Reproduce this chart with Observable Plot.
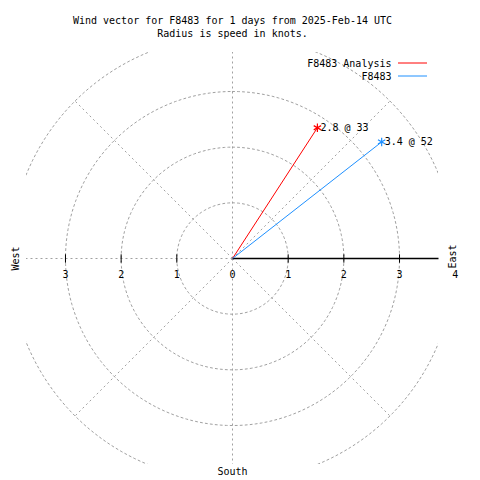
<!DOCTYPE html>
<html>
<head>
<meta charset="utf-8">
<script src="https://cdn.jsdelivr.net/npm/d3@7"></script>
<script src="https://cdn.jsdelivr.net/npm/@observablehq/plot@0.6"></script>
<style>
body { margin: 0; background: #fff; }
</style>
</head>
<body>
<div id="chart"></div>
<script>
// Data
const seriesNames = ["F8483 Analysis", "F8483"];
const seriesColors = ["#ff0000", "#1e90ff"];
const speeds = [2.8, 3.4];       // knots
const directions = [33, 52];     // degrees from north, clockwise
const ringRadii = [1, 2, 3, 4];
const spokeAngles = [0, 45, 135, 180, 225, 270, 315];
const tickValues = [-3, -2, -1, 1, 2, 3];
const tickLabelValues = [-3, -2, -1, 0, 1, 2, 3, 4];
const titleLines = ["Wind vector for F8483 for 1 days from 2025-Feb-14 UTC", "Radius is speed in knots."];

const FONT = "DejaVu Sans Mono";
const rad = d => d * Math.PI / 180;

const vectors = seriesNames.map((name, i) => ({
  name, color: seriesColors[i], speed: speeds[i], dir: directions[i],
  x: speeds[i] * Math.sin(rad(directions[i])),
  y: speeds[i] * Math.cos(rad(directions[i])),
  label: `${speeds[i].toFixed(1)} @ ${directions[i]}`
}));

const ringPts = ringRadii.flatMap(r => d3.range(0, 361, 2).map(a => ({r, x: r * Math.sin(rad(a)), y: r * Math.cos(rad(a))})));
const spokes = spokeAngles.map(a => {
  const len = a % 90 === 0 ? 4.2 : 4;
  return {x: len * Math.sin(rad(a)), y: len * Math.cos(rad(a))};
});

const grid = "#a0a0a0";
const txt = {fill: "black", fontFamily: FONT, fontSize: 10, lineAnchor: "middle"};
const chart = Plot.plot({
  width: 480, height: 480,
  marginLeft: 26, marginRight: 42, marginTop: 52, marginBottom: 16,
  style: {fontFamily: FONT, fontSize: "10px", background: "#fff"},
  x: {domain: [-3.7, 3.7], axis: null},
  y: {domain: [-3.7, 3.7], axis: null},
  marks: [
    Plot.line(ringPts, {x: "x", y: "y", z: "r", stroke: grid, strokeDasharray: "2,3", strokeWidth: 1, clip: true}),
    Plot.link(spokes, {x1: 0, y1: 0, x2: "x", y2: "y", stroke: grid, strokeDasharray: "2,3", strokeWidth: 1, clip: true}),
    Plot.link([0], {x1: 0, y1: 0, x2: 3.7, y2: 0, stroke: "black", strokeWidth: 1.5}),
    Plot.link(tickValues, {x1: d => d, x2: d => d, y1: -0.075, y2: 0.075, stroke: "black", strokeWidth: 1}),
    Plot.text(tickLabelValues, {x: d => d, y: 0, text: d => String(Math.abs(d)), dy: 16, ...txt}),
    Plot.link(vectors, {x1: 0, y1: 0, x2: "x", y2: "y", stroke: "color", strokeWidth: 1}),
    Plot.dot(vectors, {x: "x", y: "y", symbol: "asterisk", r: 4, stroke: "color", strokeWidth: 1.2}),
    Plot.text(vectors, {x: "x", y: "y", text: "label", textAnchor: "start", dx: 3, ...txt}),
    Plot.text([titleLines[0]], {frameAnchor: "top", dy: -32, ...txt}),
    Plot.text([titleLines[1]], {frameAnchor: "top", dy: -19, ...txt}),
    Plot.text(["South"], {frameAnchor: "bottom", dy: 7, ...txt}),
    Plot.text(["West"], {frameAnchor: "left", textAnchor: "middle", dx: -11, rotate: -90, ...txt}),
    Plot.text(["East"], {frameAnchor: "right", textAnchor: "middle", dx: 14, dy: -2, rotate: -90, ...txt}),
    Plot.text([seriesNames[0]], {frameAnchor: "top-right", textAnchor: "end", dx: -47, dy: 11, ...txt}),
    Plot.text([seriesNames[1]], {frameAnchor: "top-right", textAnchor: "end", dx: -47, dy: 24, ...txt})
  ]
});

// legend sample lines
const svg = d3.select(chart);
seriesNames.forEach((n, i) => {
  svg.append("line").attr("x1", 398).attr("x2", 427).attr("y1", 63 + 13 * i).attr("y2", 63 + 13 * i)
    .attr("stroke", seriesColors[i]).attr("stroke-width", 1);
});
document.getElementById("chart").appendChild(chart);
</script>
</body>
</html>
